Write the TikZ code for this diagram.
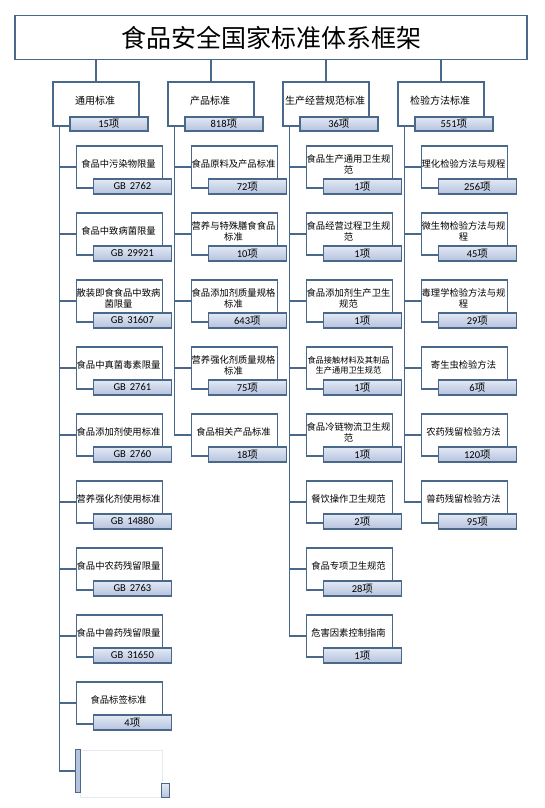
\documentclass[tikz,border=0pt]{standalone}
\usepackage{fontspec}
\setmainfont{Carlito}
\newfontfamily\cjk{Noto Sans CJK SC}
\definecolor{bd}{HTML}{4A6889}
\definecolor{subtop}{HTML}{E3E9F4}
\definecolor{subbot}{HTML}{B5C2DE}
\definecolor{faint}{HTML}{E6E9EE}
\tikzset{
  mainbox/.style={draw=bd, line width=1.8pt, fill=white, inner sep=0, anchor=north west},
  subbox/.style={draw=bd, line width=1.8pt, top color=subtop, bottom color=subbot, inner sep=0, anchor=north west},
  conn/.style={draw=bd, line width=1.8pt},
  lbl/.style={font=\cjk\fontsize{9.3}{11}\selectfont, align=center, inner sep=0},
  smalllbl/.style={font=\cjk\fontsize{8.2}{10}\selectfont},
  hlbl/.style={font=\cjk\fontsize{10}{12}\selectfont, align=center, inner sep=0},
  num/.style={font=\fontsize{10.5}{12}\selectfont, inner sep=0},
}
\newcommand\xiang{{\cjk 项}}
% [#1] extra label options, #2 name, #3 left x, #4 top y, #5 text, #6 number
\newcommand\stdbox[6][]{%
  \node[mainbox, minimum width=86pt, minimum height=42pt] (#2) at (#3,#4) {};
  \node[subbox, minimum width=78pt, minimum height=15pt] (#2s) at ([xshift=17pt,yshift=-33pt]#2.north west) {};
  \node[lbl,#1] (#2t) at ([xshift=43pt,yshift=-19pt]#2.north west) {#5};
  \node[num] (#2n) at (#2s.center) {#6};
}
\newcommand\headbox[4]{%
  \node[mainbox, minimum width=86pt, minimum height=44pt] (#1) at (#2,81) {};
  \node[subbox, minimum width=78pt, minimum height=14pt] (#1s) at ([xshift=17pt,yshift=-35pt]#1.north west) {};
  \node[hlbl] (#1t) at ([xshift=43pt,yshift=-20pt]#1.north west) {#3};
  \node[num] (#1n) at (#1s.center) {#4};
}
\begin{document}
\begin{tikzpicture}[x=1pt, y=-1pt]
\useasboundingbox (0,0) rectangle (545,808);
\fill[white] (0,0) rectangle (545,808);

% title
\node[draw=bd, line width=1.8pt, fill=white, minimum width=512pt, minimum height=44pt, inner sep=0,
      font=\cjk\fontsize{25}{28}\selectfont] (title) at (271,37.5) {食品安全国家标准体系框架};

% headers
\headbox{h1}{52}{通用标准}{15\xiang}
\headbox{h2}{167}{产品标准}{818\xiang}
\headbox{h3}{282}{生产经营规范标准}{36\xiang}
\headbox{h4}{397}{检验方法标准}{551\xiang}

\coordinate (tr1) at (59.5,125);
\coordinate (tr2) at (174.5,125);
\coordinate (tr3) at (289.5,125);
\coordinate (tr4) at (404.5,125);

% column 1
\stdbox{a1}{75.5}{145}{食品中污染物限量}{GB\hspace{4pt}2762}
\stdbox{a2}{75.5}{212}{食品中致病菌限量}{GB\hspace{4pt}29921}
\stdbox{a3}{75.5}{279}{散装即食食品中致病\\菌限量}{GB\hspace{4pt}31607}
\stdbox{a4}{75.5}{346}{食品中真菌毒素限量}{GB\hspace{4pt}2761}
\stdbox{a5}{75.5}{413}{食品添加剂使用标准}{GB\hspace{4pt}2760}
\stdbox{a6}{75.5}{480}{营养强化剂使用标准}{GB\hspace{4pt}14880}
\stdbox{a7}{75.5}{547}{食品中农药残留限量}{GB\hspace{4pt}2763}
\stdbox{a8}{75.5}{614}{食品中兽药残留限量}{GB\hspace{4pt}31650}
\stdbox{a9}{75.5}{681}{食品标签标准}{4\xiang}
% partial element at the foot of column 1
\node[draw=faint, line width=0.8pt, minimum width=82pt, minimum height=47pt, inner sep=0, anchor=north west] (a10) at (80,750) {};
\node[draw=bd, line width=1pt, fill=subbot, minimum width=5pt, minimum height=43pt, inner sep=0, anchor=north west] (a10b) at (75,749) {};
\node[subbox, line width=1pt, minimum width=8pt, minimum height=14pt] (a10s) at (161,783) {};

% column 2
\stdbox{b1}{190.5}{145}{食品原料及产品标准}{72\xiang}
\stdbox{b2}{190.5}{212}{营养与特殊膳食食品\\标准}{10\xiang}
\stdbox{b3}{190.5}{279}{食品添加剂质量规格\\标准}{643\xiang}
\stdbox{b4}{190.5}{346}{营养强化剂质量规格\\标准}{75\xiang}
\stdbox{b5}{190.5}{413}{食品相关产品标准}{18\xiang}

% column 3
\stdbox{c1}{305.5}{145}{食品生产通用卫生规\\范}{1\xiang}
\stdbox{c2}{305.5}{212}{食品经营过程卫生规\\范}{1\xiang}
\stdbox{c3}{305.5}{279}{食品添加剂生产卫生\\规范}{1\xiang}
\stdbox[smalllbl]{c4}{305.5}{346}{食品接触材料及其制品\\生产通用卫生规范}{1\xiang}
\stdbox{c5}{305.5}{413}{食品冷链物流卫生规\\范}{1\xiang}
\stdbox{c6}{305.5}{480}{餐饮操作卫生规范}{2\xiang}
\stdbox{c7}{305.5}{547}{食品专项卫生规范}{28\xiang}
\stdbox{c8}{305.5}{614}{危害因素控制指南}{1\xiang}

% column 4
\stdbox{d1}{420.5}{145}{理化检验方法与规程}{256\xiang}
\stdbox{d2}{420.5}{212}{微生物检验方法与规\\程}{45\xiang}
\stdbox{d3}{420.5}{279}{毒理学检验方法与规\\程}{29\xiang}
\stdbox{d4}{420.5}{346}{寄生虫检验方法}{6\xiang}
\stdbox{d5}{420.5}{413}{农药残留检验方法}{120\xiang}
\stdbox{d6}{420.5}{480}{兽药残留检验方法}{95\xiang}

% title connectors
\foreach \h in {h1,h2,h3,h4}
  \draw[conn] (title.south -| \h.north) -- (\h.north);

% trunks
\draw[conn] (tr1) |- (a10b.west);
\draw[conn] (tr2) |- (b5.west);
\draw[conn] (tr3) |- (c8.west);
\draw[conn] (tr4) |- (d6.west);

% branches
\foreach \b in {a1,a2,a3,a4,a5,a6,a7,a8,a9}
  \draw[conn] (\b.west -| tr1) -- (\b.west);
\foreach \b in {b1,b2,b3,b4}
  \draw[conn] (\b.west -| tr2) -- (\b.west);
\foreach \b in {c1,c2,c3,c4,c5,c6,c7}
  \draw[conn] (\b.west -| tr3) -- (\b.west);
\foreach \b in {d1,d2,d3,d4,d5}
  \draw[conn] (\b.west -| tr4) -- (\b.west);
\end{tikzpicture}
\end{document}
